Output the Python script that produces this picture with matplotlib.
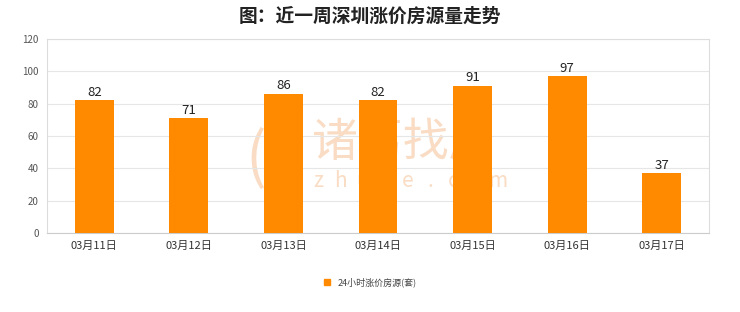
import matplotlib
matplotlib.use("Agg")
import matplotlib.pyplot as plt
from matplotlib.patches import Patch

plt.rcParams['font.family'] = ['Noto Sans CJK SC', 'DejaVu Sans']

dates = ["03月11日", "03月12日", "03月13日", "03月14日", "03月15日", "03月16日", "03月17日"]
counts = [82, 71, 86, 82, 91, 97, 37]
y_ticks = [0, 20, 40, 60, 80, 100, 120]
title = "图：近一周深圳涨价房源量走势"
series_name = "24小时涨价房源(套)"

bar_color = "#FF8A00"
grid_color = "#E6E6E6"
mark_color = "#F9DCC3"

fig = plt.figure(figsize=(7.4, 3.12), dpi=100)
ax = fig.add_axes([47 / 740, 1 - 233 / 312, 662 / 740, 194 / 312])

x = list(range(len(dates)))
ax.bar(x, counts, width=0.41, color=bar_color, zorder=3)
for xi, v in zip(x, counts):
    ax.text(xi, v + 1, str(v), ha="center", va="bottom", fontsize=9.5,
            color="#222222", zorder=4)

ax.set_xlim(-0.5, len(dates) - 0.5)
ax.set_ylim(0, 120)
ax.set_yticks(y_ticks)
ax.set_yticklabels([str(t) for t in y_ticks], fontsize=7, color="#555555")
ax.set_xticks(x)
ax.set_xticklabels(dates, fontsize=8, color="#333333")
ax.tick_params(axis="both", length=0, pad=6)
ax.grid(axis="y", color=grid_color, linewidth=0.8, zorder=0)
for side in ["left", "top", "right", "bottom"]:
    ax.spines[side].set_color("#DDDDDD")
    ax.spines[side].set_linewidth(0.8)
ax.spines["bottom"].set_color("#CCCCCC")

# faint brand watermark behind the bars
ax.text(404 / 740, 1 - 143 / 312, "诸葛找房", transform=fig.transFigure,
        fontsize=33, color=mark_color, ha="center", va="center", zorder=1)
site = "zhuge.com"
for i, ch in enumerate(site):
    ax.text((318 + i * 22.5) / 740, 1 - 181 / 312, ch, transform=fig.transFigure,
            fontsize=15, color=mark_color, ha="center", va="center", zorder=1)
ax.text(256 / 740, 1 - 160 / 312, "(", transform=fig.transFigure,
        fontsize=44, color=mark_color, ha="center", va="center", zorder=1)

fig.text(0.5, 1 - 16 / 312, title, fontsize=13.5, fontweight="bold",
         ha="center", va="center", color="#222222")

handle = Patch(facecolor=bar_color, edgecolor=bar_color)
fig.legend([handle], [series_name], loc="center", bbox_to_anchor=(0.5, 1 - 282 / 312),
           frameon=False, fontsize=6.5, handlelength=0.7, handleheight=0.7,
           labelcolor="#444444")

fig.savefig("out.png", dpi=100, facecolor="white")
